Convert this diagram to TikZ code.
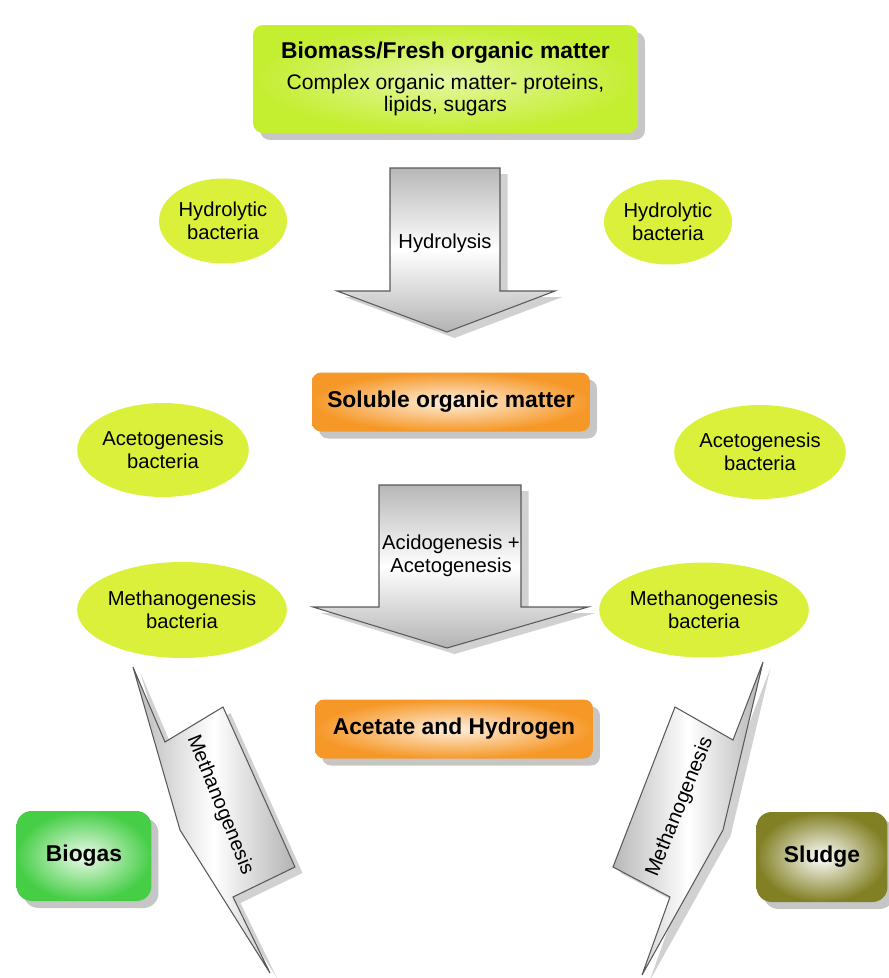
\documentclass[tikz,border=0pt]{standalone}
\usepackage{fontspec}
\setmainfont{Liberation Sans}
\usetikzlibrary{shapes.geometric,shadows}

\definecolor{limegreen}{RGB}{218,240,58}
\definecolor{topgreen}{RGB}{196,238,48}
\definecolor{stageorange}{RGB}{246,152,40}
\definecolor{gasgreen}{RGB}{70,206,70}
\definecolor{sludgeolive}{RGB}{130,128,36}

\tikzset{
  softshadow/.style={drop shadow={shadow xshift=0.14cm,shadow yshift=-0.14cm,fill=black!50,opacity=0.45}},
  bact/.style={ellipse,fill=limegreen,minimum width=2.56cm,minimum height=1.7cm},
  stagebox/.style={rounded corners=0.18cm,minimum width=5.56cm,minimum height=1.18cm,
    font=\fontsize{13}{15}\selectfont\bfseries,inner color=white!85!stageorange,outer color=stageorange,softshadow},
  endbox/.style={rounded corners=0.3cm,minimum width=2.7cm,minimum height=1.8cm,
    font=\fontsize{13}{15}\selectfont\bfseries,softshadow},
  blockarrow/.style={draw=black!65,line width=0.6pt,top color=black!28,bottom color=black!30,middle color=white,
    drop shadow={shadow xshift=0.15cm,shadow yshift=-0.12cm,fill=black!45,opacity=0.4}},
  slantarrow/.style={blockarrow,left color=black!28,right color=black!30,middle color=white}
}

\begin{document}
\begin{tikzpicture}[x=0.02cm,y=-0.02cm,every node/.style={font=\fontsize{11.5}{12.8}\selectfont,align=center,inner sep=0pt}]
\useasboundingbox (0,0) rectangle (889,978);

\node[rounded corners=0.2cm,minimum width=7.7cm,minimum height=2.16cm,inner color=white!55!topgreen,outer color=topgreen,softshadow] (src) at (445.5,79)
  {{\fontsize{13}{15}\selectfont\bfseries Biomass/Fresh organic matter}\\[5pt]
   {\fontsize{12}{15}\selectfont Complex organic matter- proteins,}\\
   {\fontsize{12}{15}\selectfont lipids, sugars}};

\draw[blockarrow] (390,168) -- (500,168) -- (500,291) -- (555,291) -- (447,332) -- (337,291) -- (390,291) -- cycle;
\node (hydro) at (445,243) {Hydrolysis};

\node[bact] (hyL) at (223,221) {Hydrolytic\\bacteria};
\node[bact] (hyR) at (668,222) {Hydrolytic\\bacteria};

\node[stagebox] (sol) at (451,402) {Soluble organic matter};

\node[bact,minimum width=2.84cm,minimum height=1.88cm] (acL) at (163,450) {Acetogenesis\\bacteria};
\node[bact,minimum width=2.84cm,minimum height=1.88cm] (acR) at (760,452) {Acetogenesis\\bacteria};

\draw[blockarrow] (379,485) -- (521,485) -- (521,607) -- (588,607) -- (447,648) -- (313,607) -- (379,607) -- cycle;
\node (acido) at (451,556) {Acidogenesis +\\Acetogenesis};

\node[bact,minimum width=3.56cm,minimum height=1.92cm] (meL) at (182,610) {Methanogenesis\\bacteria};
\node[bact,minimum width=3.48cm,minimum height=1.9cm] (meR) at (704,610) {Methanogenesis\\bacteria};

\node[stagebox] (ace) at (454,729) {Acetate and Hydrogen};

\draw[slantarrow] (133,667) -- (165,742) -- (223,707) -- (295,867) -- (233,897) -- (270,973) -- (180,830) -- cycle;
\node[rotate=-68] (methL) at (220,805) {Methanogenesis};
\draw[slantarrow] (763,662) -- (733,740) -- (675,707) -- (613,867) -- (670,897) -- (642,975) -- (723,830) -- cycle;
\node[rotate=68] (methR) at (680,807) {Methanogenesis};

\node[endbox,inner color=white!90!gasgreen,outer color=gasgreen] (gas) at (84,856) {Biogas};
\node[endbox,minimum width=2.62cm,inner color=white,outer color=sludgeolive] (sludge) at (822,857) {Sludge};
\end{tikzpicture}
\end{document}
